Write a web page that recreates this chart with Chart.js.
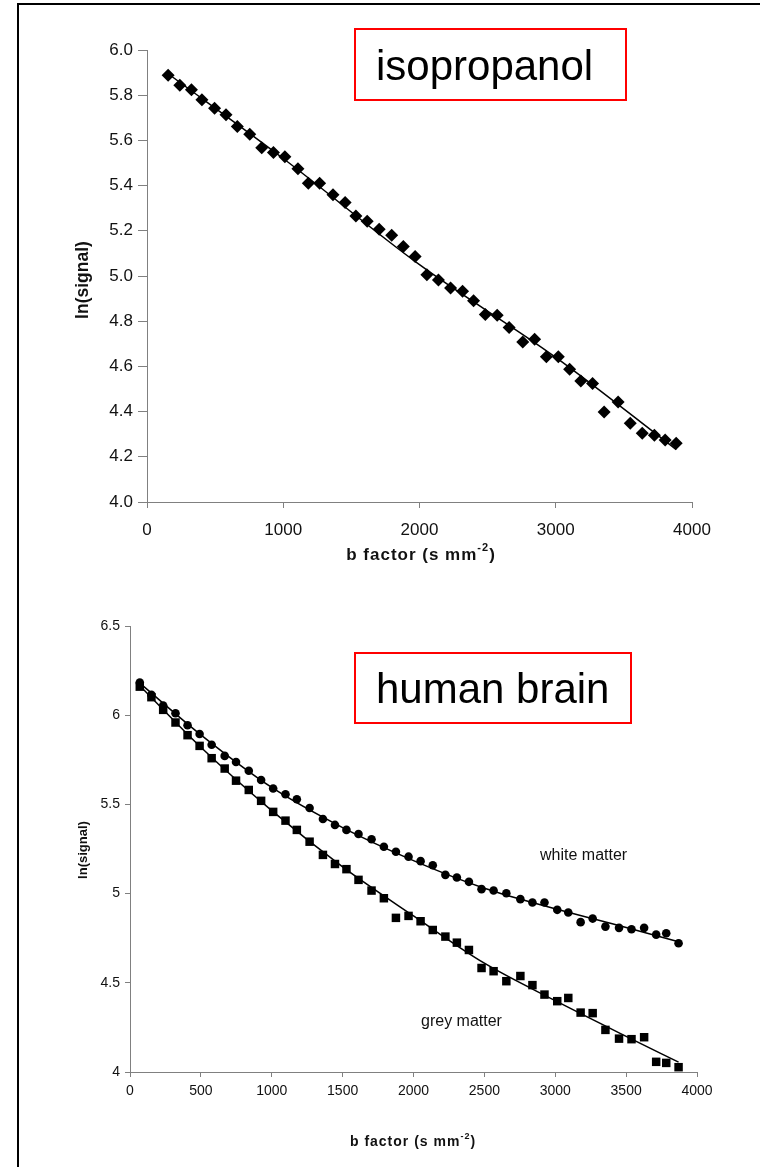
<!DOCTYPE html>
<html>
<head>
<meta charset="utf-8">
<script src="https://cdn.jsdelivr.net/npm/chart.js@4.4.1/dist/chart.umd.min.js"></script>
<style>
body{margin:0;background:#fff;overflow:hidden;width:760px;height:1167px;position:relative}
#frame{position:absolute;left:17px;top:3px;width:800px;height:1250px;border:2px solid #000}
canvas{position:absolute;left:0}
#isoChart{top:0}
#brainChart{top:580px}
</style>
</head>
<body>
<div id="frame"></div>
<canvas id="isoChart" width="760" height="580"></canvas>
<canvas id="brainChart" width="760" height="587"></canvas>
<script>

// isopropanol
let isoB=[155,241,326,403,496,580,663,754,842,928,1012,1108,1184,1267,1365,1454,1533,1616,1704,1796,1881,1968,2054,2139,2228,2316,2397,2483,2570,2658,2758,2845,2931,3019,3102,3184,3270,3355,3458,3547,3635,3724,3803,3884]
let isoLn=[5.888,5.844,5.824,5.780,5.742,5.714,5.661,5.627,5.568,5.546,5.528,5.475,5.410,5.410,5.360,5.325,5.265,5.242,5.207,5.180,5.130,5.086,5.006,4.982,4.947,4.932,4.891,4.830,4.826,4.772,4.708,4.720,4.643,4.643,4.587,4.535,4.524,4.398,4.442,4.348,4.304,4.295,4.274,4.260]
let isoFitB=[155,1000,2000,3000,3884]
let isoFitLn=[5.895,5.52,5.05,4.64,4.232]
let isoXTicks=[0,1000,2000,3000,4000]
let isoYTicks=[4.0,4.2,4.4,4.6,4.8,5.0,5.2,5.4,5.6,5.8,6.0]
let isoYLabels=["4.0","4.2","4.4","4.6","4.8","5.0","5.2","5.4","5.6","5.8","6.0"]

// human brain
let brainB=[69,151,234,321,406,491,576,668,748,838,925,1010,1097,1177,1267,1361,1446,1527,1612,1704,1791,1876,1965,2050,2136,2225,2306,2391,2480,2565,2655,2754,2839,2924,3014,3092,3179,3264,3354,3450,3538,3627,3712,3783,3870]
let whiteLn=[6.183,6.114,6.054,6.011,5.944,5.895,5.834,5.772,5.738,5.689,5.637,5.589,5.557,5.529,5.480,5.418,5.385,5.357,5.334,5.305,5.263,5.235,5.207,5.182,5.159,5.105,5.090,5.066,5.025,5.017,5.002,4.969,4.950,4.950,4.909,4.894,4.840,4.860,4.815,4.808,4.800,4.808,4.770,4.778,4.722]
let greyLn=[6.160,6.101,6.030,5.959,5.888,5.828,5.759,5.701,5.633,5.581,5.520,5.458,5.409,5.357,5.291,5.217,5.166,5.137,5.077,5.017,4.974,4.864,4.875,4.845,4.796,4.759,4.725,4.684,4.583,4.565,4.509,4.538,4.487,4.434,4.397,4.415,4.333,4.330,4.236,4.187,4.184,4.195,4.057,4.051,4.027]
let fitB=[69,500,1000,1500,2000,2500,3000,3500,3870]
let whiteFitLn=[6.18,5.89,5.595,5.37,5.185,5.03,4.915,4.81,4.73]
let greyFitLn=[6.165,5.82,5.465,5.15,4.875,4.61,4.40,4.20,4.055]
let brainXTicks=[0,500,1000,1500,2000,2500,3000,3500,4000]
let brainYTicks=[4,4.5,5,5.5,6,6.5]
let brainYLabels=["4","4.5","5","5.5","6","6.5"]

const FONT="'Liberation Sans', Arial, sans-serif"
const AXIS="#808080"

function pts(xs,ys){
return xs.map((x,i)=>({x:x,y:ys[i]}))
}

function fitLine(xs,ys){
return {data:pts(xs,ys),showLine:true,borderColor:"#000",borderWidth:1.5,pointRadius:0,cubicInterpolationMode:"monotone",fill:false}
}

function marks(xs,ys,style,r){
return {data:pts(xs,ys),showLine:false,pointStyle:style,pointRadius:r,pointHoverRadius:r,backgroundColor:"#000",borderColor:"#000",borderWidth:0}
}

function axis(min,max,ticks,labels,o){
return {
type:"linear",min:min,max:max,
afterBuildTicks:s=>{s.ticks=ticks.map(v=>({value:v}))},
afterFit:s=>{if(o.width)s.width=o.width;if(o.height)s.height=o.height},
ticks:{autoSkip:false,maxRotation:0,color:"#111",padding:o.pad,font:{family:FONT,size:o.size},callback:(v,i)=>labels[i]},
grid:{drawOnChartArea:false,color:AXIS,tickLength:o.tick},
border:{color:AXIS,width:1}
}
}

function xTitle(ctx,cx,cy,size,sup,lift){
ctx.save()
ctx.fillStyle="#111"
ctx.textBaseline="middle"
ctx.letterSpacing="1px"
ctx.font="bold "+size+"px "+FONT
let a="b factor (s mm",c=")"
let wa=ctx.measureText(a).width
let wc=ctx.measureText(c).width
ctx.font="bold "+sup+"px "+FONT
let wb=ctx.measureText("-2").width
let x=cx-(wa+wb+wc)/2
ctx.font="bold "+size+"px "+FONT
ctx.fillText(a,x,cy)
ctx.font="bold "+sup+"px "+FONT
ctx.fillText("-2",x+wa,cy-lift)
ctx.font="bold "+size+"px "+FONT
ctx.fillText(c,x+wa+wb,cy)
ctx.restore()
}

function yTitle(ctx,cx,cy,size){
ctx.save()
ctx.translate(cx,cy)
ctx.rotate(-Math.PI/2)
ctx.fillStyle="#111"
ctx.textAlign="center"
ctx.textBaseline="middle"
ctx.font="bold "+size+"px "+FONT
ctx.fillText("ln(signal)",0,0)
ctx.restore()
}

function boxLabel(ctx,x,y,w,h,text,tx,ty){
ctx.save()
ctx.strokeStyle="#ff0000"
ctx.lineWidth=2
ctx.strokeRect(x,y,w,h)
ctx.fillStyle="#000"
ctx.font="42px "+FONT
ctx.fillText(text,tx,ty)
ctx.restore()
}

let isoNotes={
id:"isoNotes",
afterDraw(chart){
let ctx=chart.ctx
boxLabel(ctx,355,29,271,71,"isopropanol",376,80)
yTitle(ctx,83,280,17.5)
xTitle(ctx,421,555,17,11,7)
}
}

let brainNotes={
id:"brainNotes",
afterDraw(chart){
let ctx=chart.ctx
boxLabel(ctx,355,73,276,70,"human brain",376,123)
yTitle(ctx,83,270,13)
xTitle(ctx,413,562,14,9,5)
ctx.save()
ctx.fillStyle="#111"
ctx.font="16px "+FONT
ctx.fillText("white matter",540,280)
ctx.fillText("grey matter",421,446)
ctx.restore()
}
}

function drawCharts(){

new Chart(document.getElementById("isoChart"),{
type:"scatter",
data:{datasets:[
fitLine(isoFitB,isoFitLn),
marks(isoB,isoLn,"rectRot",6.5)
]},
options:{
responsive:false,animation:false,
layout:{padding:{top:50,right:68,left:0,bottom:0}},
plugins:{legend:{display:false},tooltip:{enabled:false}},
scales:{
x:axis(0,4000,isoXTicks,isoXTicks.map(String),{height:78,pad:12,size:17,tick:6}),
y:axis(4,6,isoYTicks,isoYLabels,{width:147,pad:5,size:17,tick:9})
}
},
plugins:[isoNotes]
})

new Chart(document.getElementById("brainChart"),{
type:"scatter",
data:{datasets:[
fitLine(fitB,whiteFitLn),
fitLine(fitB,greyFitLn),
marks(brainB,whiteLn,"circle",4.3),
marks(brainB,greyLn,"rect",6)
]},
options:{
responsive:false,animation:false,
layout:{padding:{top:46,right:63,left:0,bottom:0}},
plugins:{legend:{display:false},tooltip:{enabled:false}},
scales:{
x:axis(0,4000,brainXTicks,brainXTicks.map(String),{height:95,pad:6,size:14,tick:5}),
y:axis(4,6.5,brainYTicks,brainYLabels,{width:130,pad:5,size:14,tick:5})
}
},
plugins:[brainNotes]
})

}

drawCharts()

</script>
</body>
</html>
